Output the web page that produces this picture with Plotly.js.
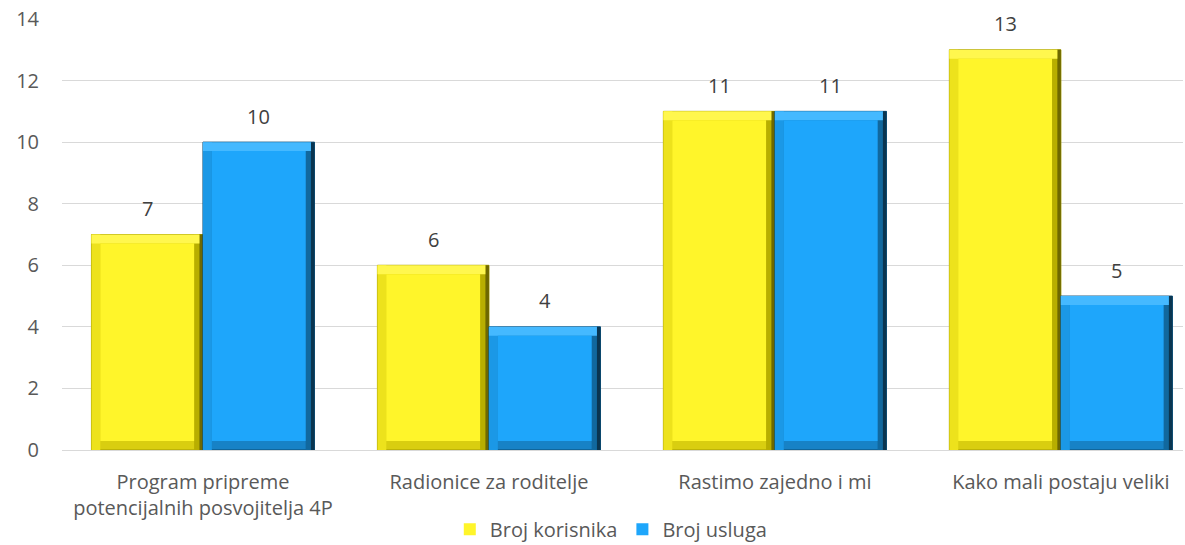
<!DOCTYPE html>
<html>
<head>
<meta charset="utf-8">
<script src="https://cdn.plot.ly/plotly-3.0.1.min.js"></script>
<style>html,body{margin:0;padding:0;background:#fff;overflow:hidden;width:1185px;height:545px;}#chart{display:block;width:1185px;height:545px;}</style>
</head>
<body>
<div id="chart"></div>
<script>
const categories = ["Program pripreme<br>potencijalnih posvojitelja 4P", "Radionice za roditelje", "Rastimo zajedno i mi", "Kako mali postaju veliki"];
const seriesNames = ["Broj korisnika", "Broj usluga"];
const brojKorisnika = [7, 6, 11, 13];
const brojUsluga = [10, 4, 11, 5];
const yTicks = [0, 2, 4, 6, 8, 10, 12, 14];

const FONT = "'Open Sans', sans-serif";
const FS = 20;
const idx = categories.map((c, i) => i);

// bevel palette per series
const palettes = [
  {face: '#FFF52A', top: '#FFF74E', left: '#EDE21C', rightIn: '#B8AE00', rightOut: '#6E6800', bottom: '#D9CE10', line: '#A39A00'},
  {face: '#1EA6FB', top: '#45B9FF', left: '#1B98E6', rightIn: '#11689E', rightOut: '#0A3550', bottom: '#1782C6', line: '#0B4B73'}
];

const W = 0.39;       // bar width (category units)
const DX = 0.031;     // bevel width (category units)
const DY = 0.29;      // bevel height (value units)

const traces = [];
function addSeries(vals, s) {
  const p = palettes[s];
  const off = s === 0 ? -W : 0;
  const common = {type: 'bar', x: idx, hoverinfo: 'skip', showlegend: false};
  traces.push(Object.assign({}, common, {y: vals, base: 0, offset: off, width: W,
    marker: {color: p.bottom, line: {color: p.line, width: 1}}}));
  traces.push(Object.assign({}, common, {y: vals, base: 0, offset: off + W - DX, width: DX,
    marker: {color: p.rightIn, line: {width: 0}}}));
  traces.push(Object.assign({}, common, {y: vals, base: 0, offset: off + W - DX / 2.5, width: DX / 2.5,
    marker: {color: p.rightOut, line: {width: 0}}}));
  traces.push(Object.assign({}, common, {y: vals, base: 0, offset: off, width: DX,
    marker: {color: p.left, line: {width: 0}}}));
  traces.push(Object.assign({}, common, {y: vals.map(() => DY), base: vals.map(v => v - DY), offset: off, width: W - DX / 2.5,
    marker: {color: p.top, line: {width: 0}}}));
  traces.push({type: 'bar', name: seriesNames[s], x: idx, y: vals.map(v => v - 2 * DY), base: DY,
    offset: off + DX, width: W - 2 * DX, hoverinfo: 'skip', showlegend: true, legendrank: s + 1,
    marker: {color: p.face, line: {width: 0}}});
}
addSeries(brojKorisnika, 0);
addSeries(brojUsluga, 1);

const annotations = [];
[brojKorisnika, brojUsluga].forEach((arr, s) => {
  arr.forEach((v, i) => {
    annotations.push({
      x: i + (s === 0 ? -W / 2 : W / 2), y: v, xref: 'x', yref: 'y',
      text: String(v), showarrow: false, yanchor: 'middle', yshift: 26,
      font: {family: FONT, size: FS, color: '#404040'}
    });
  });
});

const layout = {
  width: 1185, height: 545,
  margin: {l: 62, r: 2, t: 19, b: 95, autoexpand: false},
  paper_bgcolor: '#ffffff', plot_bgcolor: '#ffffff',
  barmode: 'overlay',
  font: {family: FONT, size: FS, color: '#595959'},
  xaxis: {
    tickmode: 'array', tickvals: idx, ticktext: categories,
    range: [-0.493, 3.427], showgrid: false, zeroline: false,
    showline: true, linecolor: '#D9D9D9', linewidth: 1,
    ticks: '', ticklabelstandoff: 14, automargin: false,
    tickfont: {family: FONT, size: FS, color: '#595959'}
  },
  yaxis: {
    range: [0, 14], tickmode: 'array', tickvals: yTicks,
    showgrid: true, gridcolor: '#D9D9D9', gridwidth: 1,
    zeroline: false, showline: false, ticks: '', ticklabelstandoff: 22, automargin: false,
    tickfont: {family: FONT, size: FS, color: '#595959'}
  },
  legend: {
    orientation: 'h', x: 0.49, xanchor: 'center', y: -0.184, yanchor: 'middle',
    font: {family: FONT, size: FS, color: '#595959'},
    itemwidth: 30, traceorder: 'normal', bgcolor: 'rgba(0,0,0,0)',
    tracegroupgap: 0
  },
  annotations: annotations,
  showlegend: true
};

Plotly.newPlot('chart', traces, layout, {displayModeBar: false, staticPlot: true});
</script>
</body>
</html>
